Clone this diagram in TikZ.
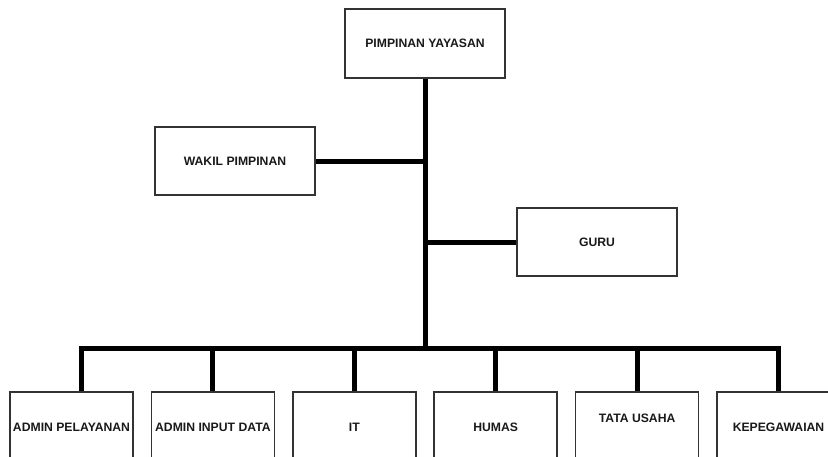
\documentclass[tikz,border=0pt]{standalone}
\usepackage{fontspec}
\setmainfont{Liberation Sans}
\usetikzlibrary{positioning}

\begin{document}
\begin{tikzpicture}[x=1pt,y=-1pt,node distance=16.8pt,
    kotak/.style={draw=black!80,line width=1.6pt,inner sep=0pt,text=black!90,
      font=\fontsize{12.2}{14}\selectfont\bfseries},
    jabatan/.style={kotak,minimum width=160pt,minimum height=68pt},
    bagian/.style={kotak,minimum width=123pt,minimum height=70pt},
    garis/.style={line width=5pt,line join=miter}]
  \useasboundingbox (0,0) rectangle (828,456);
  \clip (0,0) rectangle (828,456);
  \node[jabatan,minimum height=69pt](pimpinan) at (425,43.5) {PIMPINAN YAYASAN};
  \node[jabatan](wakil) at (235,161) {WAKIL PIMPINAN};
  \node[jabatan](guru) at (597,242) {GURU};
  \coordinate (bus) at (425,348);
  \node[bagian](adminpel) at (71.5,427) {ADMIN PELAYANAN};
  \node[bagian,right= of adminpel](admininput) {ADMIN INPUT DATA};
  \node[bagian,right= of admininput](it) {IT};
  \node[bagian,right= of it](humas) {HUMAS};
  \node[bagian,right= of humas,text depth=18pt](tu) {TATA USAHA};
  \node[bagian,right= of tu](kepeg) {KEPEGAWAIAN};
  \draw[garis] (pimpinan.south) -- (bus);
  \draw[garis] (wakil.east) -- (wakil.east -| pimpinan.south);
  \draw[garis] (guru.west) -- (guru.west -| pimpinan.south);
  \draw[garis] ([xshift=10pt]adminpel.north) |- (bus -| kepeg.north) -- (kepeg.north);
  \foreach \b in {admininput,it,humas,tu}
    \draw[garis] (\b.north) -- (\b.north |- bus);
\end{tikzpicture}
\end{document}
